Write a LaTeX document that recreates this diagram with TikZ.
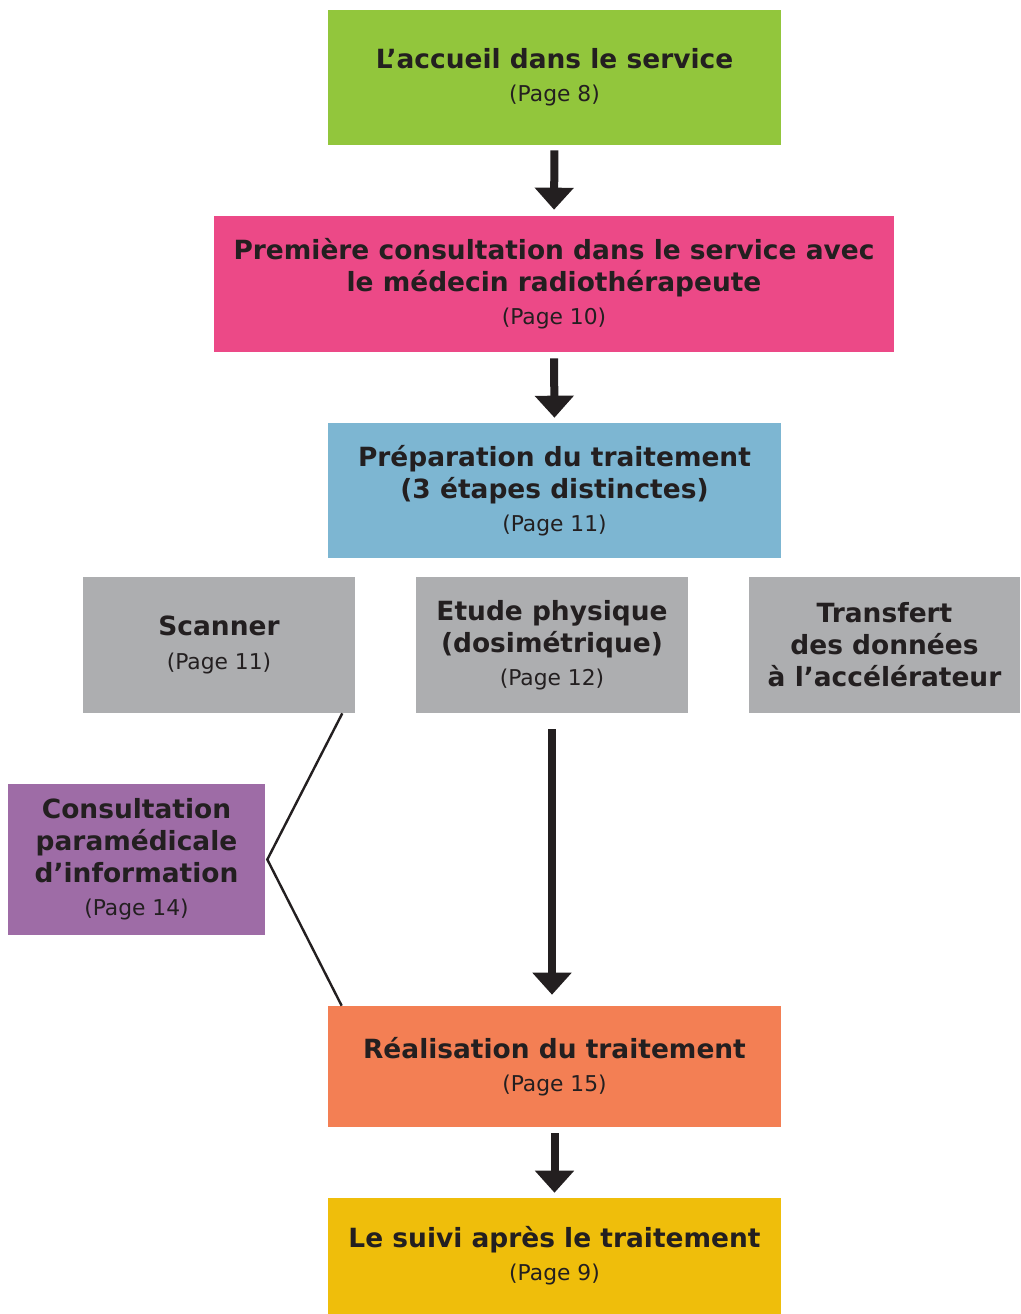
\documentclass[tikz,border=0pt]{standalone}
\usepackage{fontspec}
\setmainfont{DejaVu Sans}
\usetikzlibrary{arrows.meta, positioning}
\definecolor{ink}{RGB}{35,31,32}
\definecolor{leaf}{RGB}{146,198,60}
\definecolor{rose}{RGB}{236,73,135}
\definecolor{sky}{RGB}{125,182,210}
\definecolor{stone}{RGB}{173,174,176}
\definecolor{plum}{RGB}{158,108,166}
\definecolor{salmon}{RGB}{243,127,84}
\definecolor{gold}{RGB}{239,190,11}
\newcommand{\pg}[1]{{\normalfont\fontsize{15.5}{18}\selectfont #1}}

\begin{document}
\begin{tikzpicture}[x=0.025cm, y=-0.025cm,
    stepbox/.style={rectangle, inner sep=0pt, align=center, text=ink,
        font=\bfseries\fontsize{18.8}{22.7}\selectfont},
    wide/.style={stepbox, minimum width=11.325cm, minimum height=3.375cm},
    small/.style={stepbox, minimum width=6.8cm, minimum height=3.4cm},
    bigarrow/.style={draw=ink, line width=0.2cm, -{Triangle[width=0.95cm, length=0.55cm]}},
    thinline/.style={draw=ink, line width=0.06cm}]
    \useasboundingbox (0,0) rectangle (1020,1314);

    % main steps
    \node[wide, fill=leaf] (accueil) at (554.5,77.5)
        {L’accueil dans le service\\[1pt]\pg{(Page 8)}};
    \node[stepbox, fill=rose, minimum width=17cm, minimum height=3.4cm] (consult) at (554,284)
        {Première consultation dans le service avec\\le médecin radiothérapeute\\[1pt]\pg{(Page 10)}};
    \node[wide, fill=sky] (prepa) at (554.5,490.5)
        {Préparation du traitement\\(3 étapes distinctes)\\[1pt]\pg{(Page 11)}};

    % the three stages
    \node[small, fill=stone] (scanner) at (219,645)
        {Scanner\\[1pt]\pg{(Page 11)}};
    \node[small, fill=stone] (etude) at (552,645)
        {Etude physique\\(dosimétrique)\\[1pt]\pg{(Page 12)}};
    \node[small, fill=stone, minimum width=6.775cm] (transfert) at (884.5,645)
        {Transfert\\des données\\à l’accélérateur};

    % side consultation
    \node[stepbox, fill=plum, minimum width=6.425cm, minimum height=3.775cm] (para) at (136.5,859.5)
        {Consultation\\paramédicale\\d’information\\[1pt]\pg{(Page 14)}};

    \node[stepbox, fill=salmon, minimum width=11.325cm, minimum height=3.025cm] (real) at (554.5,1066.5)
        {Réalisation du traitement\\[1pt]\pg{(Page 15)}};
    \node[stepbox, fill=gold, minimum width=11.325cm, minimum height=2.9cm] (suivi) at (554.5,1256)
        {Le suivi après le traitement\\[1pt]\pg{(Page 9)}};

    % arrows
    \draw[bigarrow, shorten <=0.125cm, shorten >=0.15cm] (accueil.south) -- (consult.north);
    \draw[bigarrow, shorten <=0.15cm, shorten >=0.125cm] (consult.south) -- (prepa.north);
    \draw[bigarrow, shorten <=0.4cm, shorten >=0.275cm] (etude.south) -- (etude.south |- real.north);
    \draw[bigarrow, shorten <=0.15cm, shorten >=0.125cm] (real.south) -- (suivi.north);

    % bracket to the side consultation
    \coordinate (bend) at ([xshift=0.05cm]para.east);
    \draw[thinline] ([xshift=-0.325cm]scanner.south east) -- (bend)
        -- ([xshift=0.35cm]real.north west);
\end{tikzpicture}
\end{document}
